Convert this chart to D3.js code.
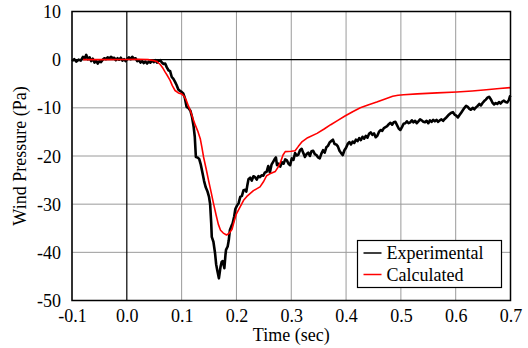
<!DOCTYPE html>
<html>
<head>
<meta charset="utf-8">
<script src="https://cdn.jsdelivr.net/npm/d3@7"></script>
<style>
  body { margin: 0; background: #fff; }
</style>
</head>
<body>
<svg id="chart" width="528" height="348" font-family="'Liberation Serif', 'DejaVu Serif', serif"></svg>
<script>
// tick values
const xTicks = [-0.1, 0.0, 0.1, 0.2, 0.3, 0.4, 0.5, 0.6, 0.7];
const yTicks = [10, 0, -10, -20, -30, -40, -50];

// series names
const seriesNames = ['Experimental', 'Calculated'];

// measured pressure [time, Pa]
const experimental = [
  [-0.100,-0.3],[-0.096,0.1],[-0.092,-0.4],[-0.088,0.0],[-0.084,-0.2],[-0.080,0.6],[-0.077,0.2],[-0.074,1.0],
  [-0.071,0.1],[-0.068,0.5],[-0.065,-0.3],[-0.062,0.2],[-0.059,-0.6],[-0.056,-0.2],[-0.053,-0.8],[-0.050,-0.3],
  [-0.047,-0.5],[-0.044,0.0],[-0.041,0.3],[-0.038,0.1],[-0.035,0.5],[-0.032,0.2],[-0.029,0.6],[-0.026,0.3],
  [-0.023,0.4],[-0.020,-0.1],[-0.017,0.3],[-0.014,0.0],[-0.011,0.4],[-0.008,-0.2],[-0.005,0.1],[-0.002,-0.3],
  [0.001,0.2],[0.004,0.5],[0.007,0.1],[0.010,0.6],[0.013,0.2],[0.016,0.3],[0.019,-0.3],[0.022,-0.1],
  [0.025,-0.6],[0.028,-0.3],[0.031,-0.7],[0.034,-0.4],[0.037,-0.8],[0.040,-0.4],[0.043,-0.6],[0.046,-0.2],
  [0.049,-0.5],[0.052,-0.1],[0.055,-0.6],[0.058,-0.2],[0.061,-0.1],[0.064,-0.6],[0.067,-0.9],[0.070,-0.8],
  [0.073,-1.6],[0.076,-2.2],[0.079,-2.4],[0.082,-3.6],[0.085,-4.0],[0.088,-4.6],[0.091,-5.3],[0.094,-6.2],
  [0.097,-6.5],[0.100,-6.7],[0.103,-7.0],[0.106,-8.0],[0.109,-9.8],[0.112,-10.0],[0.116,-10.6],[0.119,-11.9],
  [0.122,-14.0],[0.124,-16.0],[0.126,-20.2],[0.129,-20.3],[0.132,-20.6],[0.135,-21.8],[0.138,-23.5],[0.141,-25.2],
  [0.144,-26.5],[0.147,-27.3],[0.150,-28.5],[0.152,-30.0],[0.154,-34.0],[0.155,-36.8],[0.158,-37.8],[0.161,-40.2],
  [0.163,-42.5],[0.165,-43.7],[0.168,-45.4],[0.170,-43.8],[0.171,-43.0],[0.173,-42.0],[0.175,-41.8],[0.178,-43.3],
  [0.180,-40.5],[0.181,-39.5],[0.184,-38.8],[0.186,-37.5],[0.188,-35.4],[0.191,-34.5],[0.193,-34.0],[0.196,-32.5],
  [0.198,-31.0],[0.201,-30.3],[0.204,-29.8],[0.207,-28.5],[0.210,-28.3],[0.213,-27.1],[0.216,-27.0],[0.218,-27.4],
  [0.220,-26.0],[0.222,-24.8],[0.225,-24.5],[0.228,-25.1],[0.231,-24.2],[0.234,-24.4],[0.237,-24.9],[0.240,-24.2],
  [0.243,-24.4],[0.246,-24.0],[0.249,-24.1],[0.252,-23.4],[0.255,-23.3],[0.258,-22.1],[0.261,-23.4],[0.264,-21.8],
  [0.267,-21.2],[0.270,-20.6],[0.272,-20.3],[0.274,-21.9],[0.277,-21.6],[0.280,-22.2],[0.283,-21.3],[0.286,-21.6],
  [0.289,-20.7],[0.292,-20.9],[0.295,-21.6],[0.298,-21.9],[0.301,-20.5],[0.304,-20.8],[0.307,-19.4],[0.310,-19.9],
  [0.313,-19.7],[0.316,-18.8],[0.319,-18.5],[0.322,-19.4],[0.325,-20.2],[0.328,-19.6],[0.331,-19.3],[0.334,-20.0],
  [0.337,-19.0],[0.340,-18.9],[0.343,-19.6],[0.346,-19.8],[0.349,-20.3],[0.352,-20.5],[0.355,-19.5],[0.358,-18.8],
  [0.361,-19.3],[0.364,-18.2],[0.367,-17.9],[0.370,-17.2],[0.373,-16.9],[0.376,-16.6],[0.379,-17.5],[0.382,-17.6],
  [0.385,-18.0],[0.388,-18.9],[0.391,-19.4],[0.394,-19.8],[0.397,-18.8],[0.400,-18.3],[0.403,-17.5],[0.406,-17.1],
  [0.409,-17.6],[0.412,-17.0],[0.415,-17.3],[0.418,-16.6],[0.421,-16.9],[0.424,-16.3],[0.427,-16.7],[0.430,-16.0],
  [0.433,-16.4],[0.436,-15.8],[0.439,-16.2],[0.442,-15.4],[0.445,-15.1],[0.448,-15.6],[0.451,-15.3],[0.454,-16.1],
  [0.457,-15.8],[0.460,-15.0],[0.463,-14.6],[0.466,-14.8],[0.469,-14.2],[0.472,-14.0],[0.475,-13.8],[0.478,-13.4],
  [0.481,-13.1],[0.484,-13.5],[0.487,-13.0],[0.490,-12.9],[0.493,-13.6],[0.496,-14.3],[0.499,-14.6],[0.502,-14.0],
  [0.505,-13.3],[0.508,-13.2],[0.511,-12.8],[0.514,-13.2],[0.517,-13.0],[0.520,-12.6],[0.523,-13.0],[0.526,-12.7],
  [0.529,-13.2],[0.532,-12.8],[0.535,-12.4],[0.538,-12.6],[0.541,-12.9],[0.544,-13.0],[0.547,-12.7],[0.550,-13.2],
  [0.553,-12.6],[0.556,-12.9],[0.559,-12.5],[0.562,-12.8],[0.565,-12.5],[0.568,-12.9],[0.571,-12.6],[0.574,-12.4],
  [0.577,-12.7],[0.580,-12.3],[0.583,-12.0],[0.586,-11.6],[0.589,-11.3],[0.592,-11.0],[0.595,-10.9],[0.598,-11.4],
  [0.601,-11.6],[0.604,-12.0],[0.607,-11.5],[0.610,-11.0],[0.613,-10.5],[0.616,-10.0],[0.619,-9.6],[0.622,-9.8],
  [0.625,-10.2],[0.628,-10.4],[0.631,-10.0],[0.634,-10.3],[0.637,-9.9],[0.640,-9.6],[0.643,-9.2],[0.646,-9.5],
  [0.649,-9.0],[0.652,-8.6],[0.655,-8.3],[0.658,-7.9],[0.661,-7.7],[0.664,-8.2],[0.667,-8.9],[0.670,-9.3],
  [0.673,-9.0],[0.676,-9.2],[0.679,-8.8],[0.682,-9.1],[0.685,-8.7],[0.688,-8.5],[0.691,-8.8],[0.694,-8.9],
  [0.697,-8.4],[0.699,-7.6],[0.700,-7.8]
];

// model pressure [time, Pa]
const calculated = [
  [-0.08,0],[-0.04,0],[0.0,0.05],[0.02,0.1],[0.04,0],[0.05,-0.2],[0.055,-0.4],[0.061,-1.0],[0.066,-1.8],
  [0.070,-2.6],[0.075,-3.5],[0.079,-4.3],[0.083,-5.4],[0.088,-6.4],[0.094,-6.9],[0.100,-7.1],[0.104,-7.5],
  [0.108,-8.3],[0.112,-9.5],[0.116,-10.6],[0.120,-12.0],[0.125,-13.6],[0.130,-15.0],[0.134,-16.4],[0.137,-18.2],
  [0.140,-20.2],[0.145,-22.8],[0.149,-25.0],[0.154,-27.6],[0.158,-29.8],[0.163,-32.3],[0.167,-34.2],[0.171,-35.4],
  [0.176,-36.0],[0.182,-36.4],[0.187,-36.0],[0.192,-35.2],[0.196,-33.5],[0.200,-32.0],[0.207,-30.5],[0.213,-29.2],
  [0.219,-28.4],[0.231,-27.2],[0.243,-26.4],[0.249,-25.4],[0.255,-24.1],[0.261,-23.7],[0.271,-23.2],[0.276,-22.3],
  [0.280,-21.4],[0.285,-19.8],[0.289,-19.1],[0.300,-19.0],[0.307,-18.9],[0.313,-18.0],[0.320,-17.0],[0.330,-16.2],
  [0.347,-15.3],[0.360,-14.4],[0.372,-13.5],[0.385,-12.6],[0.398,-11.7],[0.412,-10.8],[0.426,-10.0],[0.440,-9.4],
  [0.456,-8.8],[0.470,-8.2],[0.485,-7.6],[0.495,-7.4],[0.505,-7.3],[0.530,-7.1],[0.566,-6.9],[0.602,-6.7],
  [0.630,-6.5],[0.651,-6.3],[0.680,-6.0],[0.700,-5.8]
];

const colors = ['#000000', '#ff0000'];
const serif = "'Liberation Serif', 'DejaVu Serif', serif";

const svg = d3.select('#chart');
const plotLeft = 72, plotRight = 510.5, plotTop = 11.5, plotBottom = 300.5;

const x = d3.scaleLinear().domain([-0.1, 0.7]).range([plotLeft, plotRight]);
const y = d3.scaleLinear().domain([-50, 10]).range([plotBottom, plotTop]);

// grid
svg.append('g')
  .selectAll('line')
  .data(xTicks.filter(d => d !== 0))
  .enter().append('line')
  .attr('x1', d => x(d)).attr('x2', d => x(d))
  .attr('y1', plotTop).attr('y2', plotBottom)
  .attr('stroke', '#9a9a9a').attr('stroke-width', 1);

svg.append('g')
  .selectAll('line')
  .data(yTicks.filter(d => d !== 0))
  .enter().append('line')
  .attr('x1', plotLeft).attr('x2', plotRight)
  .attr('y1', d => y(d)).attr('y2', d => y(d))
  .attr('stroke', '#9a9a9a').attr('stroke-width', 1);

// zero lines
svg.append('line')
  .attr('x1', x(0)).attr('x2', x(0)).attr('y1', plotTop).attr('y2', plotBottom)
  .attr('stroke', '#000').attr('stroke-width', 1.2);
svg.append('line')
  .attr('x1', plotLeft).attr('x2', plotRight).attr('y1', y(0)).attr('y2', y(0))
  .attr('stroke', '#000').attr('stroke-width', 1.2);

// axes (labels only, frame drawn separately)
const xAxis = d3.axisBottom(x).tickValues(xTicks).tickSize(0).tickPadding(8.5)
  .tickFormat(d => d.toFixed(1));
const yAxis = d3.axisLeft(y).tickValues(yTicks).tickSize(0).tickPadding(11)
  .tickFormat(d => String(d));

const gx = svg.append('g').attr('transform', `translate(0,${plotBottom})`).call(xAxis);
const gy = svg.append('g').attr('transform', `translate(${plotLeft},0)`).call(yAxis);
[gx, gy].forEach(g => {
  g.select('.domain').remove();
  g.attr('font-family', serif).attr('font-size', 18);
  g.selectAll('text').attr('fill', '#000');
});
gy.selectAll('text').attr('dy', '0.34em');

// series
const line = d3.line().x(d => x(d[0])).y(d => y(d[1]));

svg.append('path')
  .datum(experimental)
  .attr('d', line)
  .attr('fill', 'none')
  .attr('stroke', colors[0])
  .attr('stroke-width', 2.6)
  .attr('stroke-linejoin', 'round');

svg.append('path')
  .datum(calculated)
  .attr('d', line)
  .attr('fill', 'none')
  .attr('stroke', colors[1])
  .attr('stroke-width', 1.6)
  .attr('stroke-linejoin', 'round');

// frame
svg.append('rect')
  .attr('x', plotLeft).attr('y', plotTop)
  .attr('width', plotRight - plotLeft).attr('height', plotBottom - plotTop)
  .attr('fill', 'none').attr('stroke', '#000').attr('stroke-width', 1.5);

// axis titles
svg.append('text')
  .attr('x', (plotLeft + plotRight) / 2).attr('y', 341)
  .attr('text-anchor', 'middle')
  .attr('font-family', serif).attr('font-size', 18)
  .text('Time (sec)');

svg.append('text')
  .attr('transform', `translate(26,${(plotTop + plotBottom) / 2}) rotate(-90)`)
  .attr('text-anchor', 'middle')
  .attr('font-family', serif).attr('font-size', 18)
  .text('Wind Pressure (Pa)');

// legend
const legend = svg.append('g').attr('transform', 'translate(357.5,240.5)');
legend.append('rect')
  .attr('width', 144).attr('height', 47)
  .attr('fill', '#fff').attr('stroke', '#000').attr('stroke-width', 1.2);

const item = legend.selectAll('g.item')
  .data(seriesNames)
  .enter().append('g')
  .attr('class', 'item')
  .attr('transform', (d, i) => `translate(0,${12.5 + i * 21.5})`);

item.append('line')
  .attr('x1', 6).attr('x2', 24)
  .attr('stroke', (d, i) => colors[i]).attr('stroke-width', 1.5);

item.append('text')
  .attr('x', 29).attr('dy', '0.34em')
  .attr('font-family', serif).attr('font-size', 18)
  .text(d => d);
</script>
</body>
</html>
